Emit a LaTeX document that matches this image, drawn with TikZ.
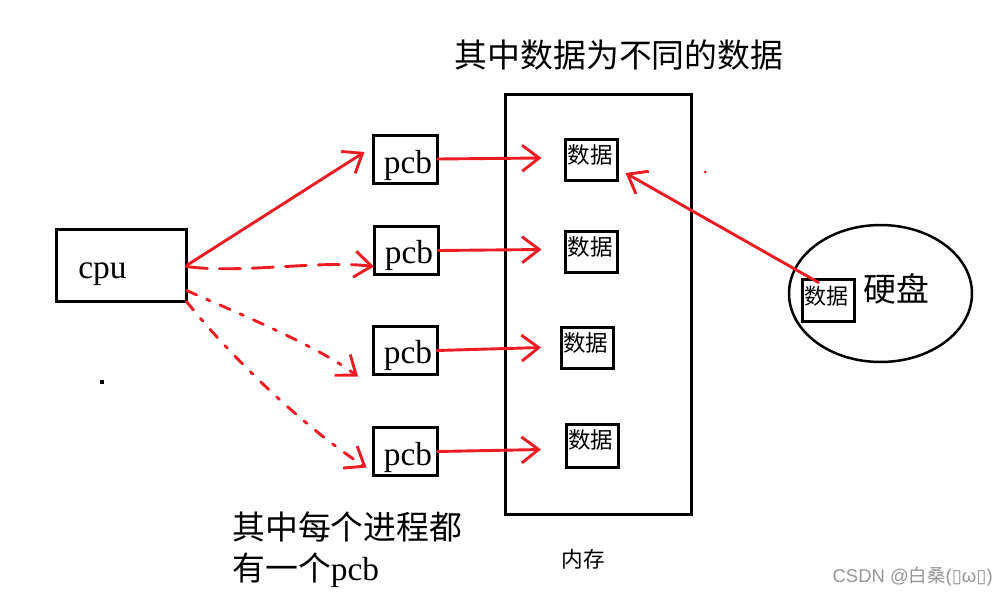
\documentclass[tikz,border=0pt]{standalone}
\usepackage{fontspec}
\setmainfont{Liberation Serif}
\newfontfamily\cjk{Noto Sans CJK SC}
\newfontfamily\wmsans{Liberation Sans}
\newfontfamily\dejavu{DejaVu Sans}
\usetikzlibrary{arrows.meta,calc,shapes.geometric}
\definecolor{pred}{RGB}{237,28,36}
\definecolor{wmgray}{RGB}{150,150,150}
\begin{document}
\begin{tikzpicture}[x=0.02cm,y=-0.02cm,
  box/.style={draw=black,line width=0.06cm,inner sep=0pt,outer sep=0pt},
  pcbbox/.style={box,minimum width=1.28cm,minimum height=0.96cm},
  databox/.style={box,minimum width=1.04cm,minimum height=0.82cm},
  lat/.style={font=\fontsize{19}{22}\selectfont,inner sep=0pt},
  cjkbig/.style={font=\cjk\fontsize{18.7}{22}\selectfont,inner sep=0pt},
  cjksmall/.style={font=\cjk\fontsize{12.8}{15}\selectfont,inner sep=0pt},
  redarr/.style={draw=pred,line width=0.058cm,line cap=round,
    -{Straight Barb[length=0.34cm,width=0.52cm]}},
  dashdotted/.style={dash pattern=on 0.22cm off 0.22cm on 0.07cm off 0.22cm},
  longdash/.style={dash pattern=on 0.42cm off 0.24cm}
]
\useasboundingbox (0,0) rectangle (1000,599);
\fill[white] (0,0) rectangle (1000,599);

% cpu
\node[box,minimum width=2.6cm,minimum height=1.44cm] (cpu) at (121.5,265.5) {};
\node[lat,anchor=base] (cputxt) at (102.5,278) {cpu};

% pcb boxes
\node[pcbbox] (pcb1) at (405.5,159) {};
\node[pcbbox] (pcb2) at (406,250.5) {};
\node[pcbbox] (pcb3) at (405,350.5) {};
\node[pcbbox] (pcb4) at (405.5,451.5) {};
\node[lat,anchor=base] (p1t) at (408,173) {pcb};
\node[lat,anchor=base] (p2t) at (409,263) {pcb};
\node[lat,anchor=base] (p3t) at (408,363) {pcb};
\node[lat,anchor=base] (p4t) at (408,465) {pcb};

% memory
\node[box,minimum width=3.74cm,minimum height=8.4cm] (mem) at (598.5,304.5) {};
\node[databox] (d1) at (591.5,160) {};
\node[databox] (d2) at (591.5,251.5) {};
\node[databox] (d3) at (587,347.5) {};
\node[databox,minimum height=0.86cm] (d4) at (592,445.5) {};
\node[cjksmall] (d1t) at (590,155) {数据};
\node[cjksmall] (d2t) at (590,247) {数据};
\node[cjksmall] (d3t) at (585.5,343) {数据};
\node[cjksmall] (d4t) at (590.5,440) {数据};
\node[cjksmall,font=\cjk\fontsize{12.3}{15}\selectfont] (memt) at (583,559) {内存};

% hard disk
\node[ellipse,draw=black,line width=0.05cm,minimum width=3.66cm,minimum height=2.74cm,inner sep=0pt] (disk) at (880.5,293.5) {};
\node[databox,minimum width=1.04cm,minimum height=0.84cm] (hd) at (828.5,300.5) {};
\node[cjksmall,font=\cjk\fontsize{12.5}{15}\selectfont] (hdt) at (826.5,296) {数据};
\node[cjkbig] (diskt) at (896.5,289) {硬盘};

% texts
\node[cjkbig] (title) at (619,55) {其中数据为不同的数据};
\node[cjkbig,anchor=west] (note1) at (232,527) {其中每个进程都};
\node[cjkbig,anchor=west] (note2) at (232,570) {有一个\fontspec{Liberation Serif}\fontsize{19}{22}\selectfont pcb};

% connectors
\draw[redarr] (cpu.east) -- ($(pcb1.west)+(-9,-7)$);
\draw[redarr,longdash] ($(cpu.east)+(0,1)$) .. controls (240,274) and (320,260) .. ($(pcb2.west)+(0,16)$);
\draw[redarr,dashdotted] ($(cpu.east)+(0,25)$) .. controls (250,318) and (320,348) .. ($(pcb3.south west)+(-15,2)$);
\draw[redarr,dashdotted] (cpu.south east) .. controls (225,350) and (300,425) .. ($(pcb4.west)+(-7,16)$);

\draw[redarr] (pcb1.east) -- ($(d1.west)+(-24,-2)$);
\draw[redarr] (pcb2.east) -- ($(d2.west)+(-24,-2)$);
\draw[redarr] (pcb3.east) -- ($(d3.west)+(-20,0)$);
\draw[redarr] (pcb4.east) -- ($(d4.west)+(-25,4)$);

\draw[redarr] ($(hd.north west)+(16,3)$) -- ($(d1.east)+(8,13)$);

% stray marks
\fill[black] (100,380) rectangle (104,384);
\fill[pred] (705,172) circle[radius=0.03cm];

% watermark
\node[anchor=east,text=wmgray,font=\wmsans\fontsize{10.5}{12}\selectfont,inner sep=0pt] (wm) at (993,577) {CSDN @{\cjk 白桑}({\dejavu ▯}ω{\dejavu ▯})};
\end{tikzpicture}
\end{document}
